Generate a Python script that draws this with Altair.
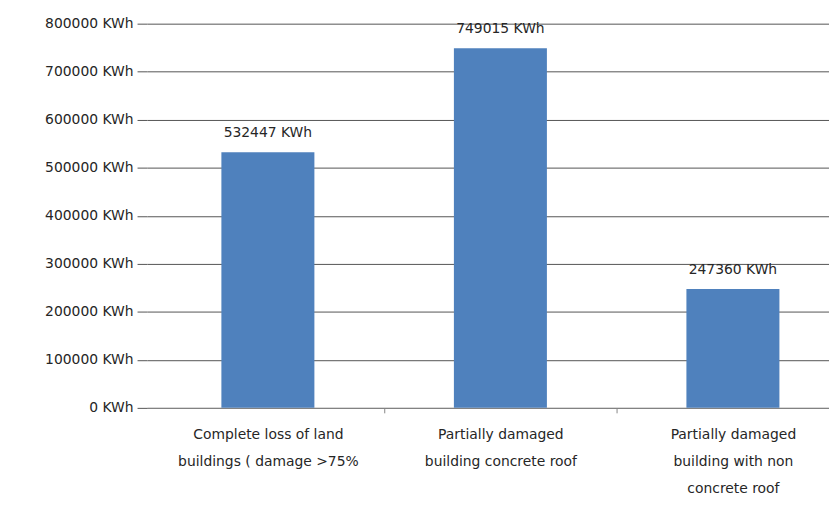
import altair as alt
import pandas as pd

categories = [
    "Complete loss of land|buildings ( damage >75%",
    "Partially damaged|building concrete roof",
    "Partially damaged|building with non|concrete roof",
]
values = [532447, 749015, 247360]
y_ticks = [0, 100000, 200000, 300000, 400000, 500000, 600000, 700000, 800000]

df = pd.DataFrame({"category": categories, "value": values})
df["label"] = df["value"].astype(str) + " KWh"

FONT = "DejaVu Sans"
TXT = "#262626"
RANGE_W = 712
P_IN = 0.6
P_OUT = 0.32
STEP = RANGE_W / (len(categories) - P_IN + 2 * P_OUT)

base = alt.Chart(df)

x_enc = alt.X(
    "category:N",
    sort=categories,
    title=None,
    scale=alt.Scale(range=[0, RANGE_W], paddingInner=P_IN, paddingOuter=P_OUT),
    axis=alt.Axis(
        labelAngle=0,
        labelExpr="split(datum.label, '|')",
        labelFont=FONT,
        labelFontSize=14,
        labelColor=TXT,
        labelLineHeight=27,
        labelPadding=15,
        labelLimit=300,
        labelOffset=-STEP / 2,
        ticks=True,
        tickOffset=STEP / 2,
        tickColor="#868686",
        tickSize=5,
        domainColor="#868686",
        grid=False,
    ),
)

y_enc = alt.Y(
    "value:Q",
    title=None,
    scale=alt.Scale(domain=[0, 800000], nice=False),
    axis=alt.Axis(
        values=y_ticks,
        labelExpr="format(datum.value, 'd') + ' KWh'",
        labelFont=FONT,
        labelFontSize=14,
        labelColor=TXT,
        labelPadding=4,
        tickSize=10,
        tickColor="#555555",
        domain=False,
        grid=True,
        gridColor="#555555",
        gridWidth=1,
    ),
)

bars = base.mark_bar(color="#4F81BD").encode(x=x_enc, y=y_enc)

labels = base.mark_text(
    baseline="bottom", dy=-12, font=FONT, fontSize=14, color=TXT
).encode(
    x=alt.X("category:N", sort=categories),
    y=alt.Y("value:Q"),
    text="label:N",
)

chart = (
    alt.layer(bars, labels)
    .properties(
        width=687,
        height=387,
        background="white",
        autosize=alt.AutoSizeParams(type="none"),
        padding={"left": 140, "top": 14, "right": 0, "bottom": 88},
    )
    .configure_view(stroke="transparent", strokeWidth=0)
    .configure_axisY(domain=False)
)

chart.save("out.html", embed_options={"renderer": "svg", "actions": False})
